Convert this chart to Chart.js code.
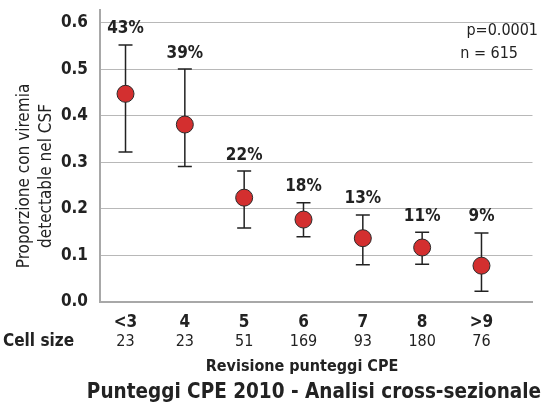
<!DOCTYPE html>
<html>
<head>
<meta charset="utf-8">
<script src="https://cdn.jsdelivr.net/npm/chart.js@4.4.0/dist/chart.umd.min.js"></script>
<style>
  html, body { margin: 0; padding: 0; background: #fff; }
  #grafico { display: block; }
</style>
</head>
<body>
<canvas id="grafico" width="542" height="411"></canvas>
<script>
// dati
const categorie = ['<3', '4', '5', '6', '7', '8', '>9'];
const cellSize = ['23', '23', '51', '169', '93', '180', '76'];
const proporzioni = [0.447, 0.381, 0.224, 0.177, 0.137, 0.117, 0.078];
const limiteSup = [0.552, 0.500, 0.281, 0.213, 0.187, 0.150, 0.148];
const limiteInf = [0.322, 0.291, 0.159, 0.140, 0.080, 0.081, 0.023];
const percentuali = ['43%', '39%', '22%', '18%', '13%', '11%', '9%'];
const tickY = [0, 0.1, 0.2, 0.3, 0.4, 0.5, 0.6];

const FONT = '"DejaVu Sans Condensed", "Liberation Sans Narrow", sans-serif';
const NERO = '#222222';

// barre di errore + etichette percentuali
const pluginErrori = {
    id: 'errori',
    beforeDatasetsDraw(chart) {
        const ctx = chart.ctx;
        const x = chart.scales.x, y = chart.scales.y;
        ctx.save();
        ctx.strokeStyle = NERO;
        ctx.lineWidth = 1.5;
        for (let i = 0; i < categorie.length; i++) {
            const px = x.getPixelForValue(i);
            const top = y.getPixelForValue(limiteSup[i]);
            const bot = y.getPixelForValue(limiteInf[i]);
            ctx.beginPath();
            ctx.moveTo(px, top); ctx.lineTo(px, bot);
            ctx.moveTo(px - 7, top); ctx.lineTo(px + 7, top);
            ctx.moveTo(px - 7, bot); ctx.lineTo(px + 7, bot);
            ctx.stroke();
        }
        ctx.restore();
    },
    afterDatasetsDraw(chart) {
        const ctx = chart.ctx;
        const x = chart.scales.x, y = chart.scales.y;
        ctx.save();
        ctx.fillStyle = NERO;
        ctx.font = 'bold 17px ' + FONT;
        ctx.textAlign = 'center';
        ctx.textBaseline = 'middle';
        for (let i = 0; i < categorie.length; i++) {
            ctx.fillText(percentuali[i], x.getPixelForValue(i), y.getPixelForValue(limiteSup[i]) - 16);
        }
        ctx.restore();
    },
    afterDraw(chart) {
        const ctx = chart.ctx;
        const x = chart.scales.x;
        ctx.save();
        ctx.fillStyle = NERO;
        ctx.textBaseline = 'middle';

        // riga cell size
        ctx.font = 'bold 17px ' + FONT;
        ctx.textAlign = 'left';
        ctx.fillText('Cell size', 3, 342);
        ctx.font = '16px ' + FONT;
        ctx.textAlign = 'center';
        for (let i = 0; i < cellSize.length; i++) {
            ctx.fillText(cellSize[i], x.getPixelForValue(i), 342);
        }

        ctx.font = 'bold 16px ' + FONT;
        ctx.fillText('Revisione punteggi CPE', 302, 367);
        ctx.font = 'bold 20.5px ' + FONT;
        ctx.fillText('Punteggi CPE 2010 - Analisi cross-sezionale', 314, 393);

        // p e n
        ctx.font = '16px ' + FONT;
        ctx.textAlign = 'right';
        ctx.fillText('p=0.0001', 538, 31);
        ctx.fillText('n = 615', 518, 54);

        // titolo asse y
        ctx.translate(36, 176);
        ctx.rotate(-Math.PI / 2);
        ctx.font = '17px ' + FONT;
        ctx.textAlign = 'center';
        ctx.fillText('Proporzione con viremia', 0, -11);
        ctx.fillText('detectable nel CSF', 0, 11);
        ctx.restore();
    }
};

new Chart(document.getElementById('grafico'), {
    type: 'scatter',
    data: {
        datasets: [{
            data: proporzioni.map((v, i) => ({ x: i, y: v })),
            pointRadius: 8.5,
            pointHoverRadius: 8.5,
            backgroundColor: '#d32f2f',
            borderColor: '#2a2a2a',
            borderWidth: 1
        }]
    },
    options: {
        responsive: false,
        animation: false,
        devicePixelRatio: 1,
        layout: { padding: { top: 8, right: 0, left: 0, bottom: 0 } },
        plugins: {
            legend: { display: false },
            tooltip: { enabled: false }
        },
        scales: {
            x: {
                type: 'linear',
                min: -0.43,
                max: 6.86,
                grid: { display: false, drawTicks: false },
                border: { display: true, color: '#a8a8a8', width: 2 },
                afterBuildTicks: (axis) => { axis.ticks = categorie.map((c, i) => ({ value: i })); },
                afterFit: (scale) => { scale.height = 109; scale.paddingLeft = 0; scale.paddingRight = 0; },
                ticks: {
                    autoSkip: false,
                    maxRotation: 0,
                    padding: 10,
                    color: NERO,
                    font: { family: FONT, size: 17, weight: 'bold' },
                    callback: (v) => categorie[v]
                }
            },
            y: {
                min: 0,
                max: 0.628,
                grid: { color: '#b8b8b8', lineWidth: 1, drawTicks: false },
                border: { display: true, color: '#a8a8a8', width: 2 },
                afterBuildTicks: (axis) => { axis.ticks = tickY.map(v => ({ value: v })); },
                afterFit: (scale) => { scale.width = 100; scale.paddingTop = 0; scale.paddingBottom = 0; },
                ticks: {
                    padding: 12,
                    color: NERO,
                    font: { family: FONT, size: 17, weight: 'bold' },
                    callback: (v) => v.toFixed(1)
                }
            }
        }
    },
    plugins: [pluginErrori]
});
</script>
</body>
</html>
